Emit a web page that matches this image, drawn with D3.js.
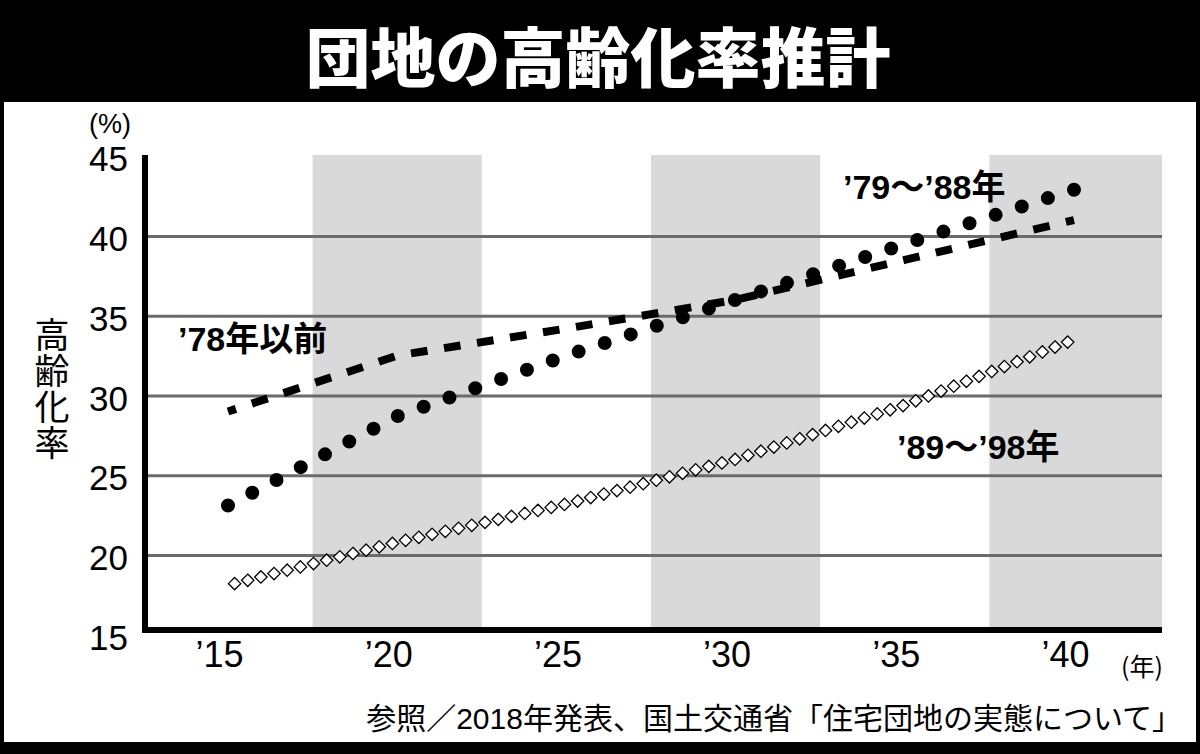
<!DOCTYPE html>
<html><head><meta charset="utf-8">
<script src="https://cdn.jsdelivr.net/npm/d3@7"></script>
<style>body{margin:0;background:#000;} svg{display:block}</style>
</head><body>
<svg id="c" width="1200" height="754"></svg>
<script>
const title = "団地の高齢化率推計";
const years = [2015, 2020, 2025, 2030, 2035, 2040];
const seriesPre78 = [29.0, 32.5, 34.2, 36.0, 38.5, 41.0];
const series79to88 = [23.1, 28.7, 32.5, 36.0, 39.5, 42.9];
const series89to98 = [18.1, 20.8, 23.2, 26.0, 29.4, 33.5];
const seriesNames = ["’78年以前", "’79〜’88年", "’89〜’98年"];
const yTicks = [15, 20, 25, 30, 35, 40, 45];
const gridTicks = [20, 25, 30, 35, 40];
const xTicks = [2015, 2020, 2025, 2030, 2035, 2040];
const xTickLabels = ["’15", "’20", "’25", "’30", "’35", "’40"];
const shadedPeriods = [[2017.5, 2022.5], [2027.5, 2032.5], [2037.5, 2042.6]];
const yAxisTitle = "高齢化率";
const yUnit = "(%)";
const xUnit = "(年)";
const source = "参照／2018年発表、国土交通省「住宅団地の実態について」";

const svg = d3.select("#c");
const W = 1200, H = 754;
const plot = {left: 145, right: 1162, top: 155, bottom: 627};
const x = d3.scaleLinear().domain([2015, 2040]).range([228, 1074]);
const y = d3.scaleLinear().domain([15, 45]).range([634.75, 156.25]);

const jp = "'Noto Sans CJK JP', sans-serif";
const latJp = "'Liberation Sans', 'Noto Sans CJK JP', sans-serif";
const narrow = "'Liberation Sans Narrow', 'Liberation Sans', sans-serif";

// background
svg.append("rect").attr("width", W).attr("height", H).attr("fill", "#000");
svg.append("rect").attr("x", 4).attr("y", 102).attr("width", 1192).attr("height", 640).attr("fill", "#fff");

// title
svg.append("text").attr("x", 598).attr("y", 54).attr("text-anchor", "middle")
  .attr("dominant-baseline", "central").attr("fill", "#fff")
  .style("font-family", jp).style("font-weight", 900).style("font-size", "65px")
  .text(title);

// shaded bands
svg.append("g").selectAll("rect").data(shadedPeriods).join("rect")
  .attr("x", d => x(d[0]))
  .attr("width", d => Math.min(x(d[1]), plot.right) - x(d[0]))
  .attr("y", plot.top).attr("height", plot.bottom - plot.top)
  .attr("fill", "#d9d9d9");

// gridlines
const grid = svg.append("g").attr("transform", `translate(${plot.left},0)`)
  .call(d3.axisRight(y).tickValues(gridTicks).tickSize(plot.right - plot.left).tickFormat(""));
grid.select(".domain").remove();
grid.selectAll("line").attr("stroke", "#6b6b6b").attr("stroke-width", 3);

// y tick labels
const ya = svg.append("g").attr("transform", "translate(128,0)")
  .call(d3.axisLeft(y).tickValues(yTicks).tickSize(0).tickPadding(0));
ya.select(".domain").remove();
ya.selectAll("text").attr("fill", "#000").attr("dy", "0.42em")
  .style("font-family", narrow).style("font-size", "35px");

// x tick labels
const xa = svg.append("g").attr("transform", "translate(0,645)")
  .call(d3.axisBottom(x).tickValues(xTicks).tickSize(0).tickPadding(0)
    .tickFormat((d, i) => xTickLabels[i]));
xa.select(".domain").remove();
xa.selectAll("text").attr("fill", "#000").attr("dx", -9).attr("dy", "0.62em")
  .style("font-family", narrow).style("font-size", "36px");

// axis lines
svg.append("line").attr("x1", 145).attr("x2", 145).attr("y1", plot.top).attr("y2", 633)
  .attr("stroke", "#000").attr("stroke-width", 6);
svg.append("line").attr("x1", 142).attr("x2", plot.right).attr("y1", 630).attr("y2", 630)
  .attr("stroke", "#000").attr("stroke-width", 6);

// units and titles
svg.append("text").attr("x", 131).attr("y", 124).attr("text-anchor", "end")
  .attr("dominant-baseline", "central").style("font-family", narrow).style("font-size", "27px")
  .text(yUnit);
svg.append("text").attr("x", 1121).attr("y", 665)
  .attr("dominant-baseline", "central").style("font-family", "'Liberation Sans Narrow', 'Noto Sans CJK JP', sans-serif").style("font-size", "25px")
  .text(xUnit);
svg.append("text").attr("x", 52).attr("y", 317)
  .style("writing-mode", "vertical-rl").style("letter-spacing", "1px")
  .style("font-family", jp).style("font-size", "35px").text(yAxisTitle);
svg.append("text").attr("x", 1182).attr("y", 718).attr("text-anchor", "end")
  .attr("dominant-baseline", "central").style("font-family", latJp).style("font-size", "30px")
  .text(source);

const line = d3.line().x(d => x(d.year)).y(d => y(d.v));
const toPts = arr => years.map((yr, i) => ({year: yr, v: arr[i]}));

// '78年以前 dashed
const dashPath = svg.append("path").datum(toPts(seriesPre78)).attr("d", line)
  .attr("fill", "none").attr("stroke", "#000").attr("stroke-width", 8);
{
  const L = dashPath.node().getTotalLength();
  const per = L / 26, dash = per / 2;
  dashPath.attr("stroke-dasharray", `${dash} ${per - dash}`).attr("stroke-dashoffset", dash / 2);
}

// '79〜'88 dotted
const dotPath = svg.append("path").datum(toPts(series79to88)).attr("d", line)
  .attr("fill", "none").attr("stroke", "#000").attr("stroke-width", 14)
  .attr("stroke-linecap", "round");
{
  const L = dotPath.node().getTotalLength();
  dotPath.attr("stroke-dasharray", `0 ${L / 33}`);
}

// '89〜'98 diamonds
const diaPath = svg.append("path").datum(toPts(series89to98)).attr("d", line)
  .attr("fill", "none").attr("stroke", "none");
{
  const node = diaPath.node();
  const L = node.getTotalLength();
  const N = 65;
  const pts = d3.range(N).map(i => node.getPointAtLength((i + 0.5) * L / N));
  const r = 6.2;
  svg.append("g").selectAll("path").data(pts).join("path")
    .attr("d", p => `M${p.x},${p.y - r}L${p.x + r},${p.y}L${p.x},${p.y + r}L${p.x - r},${p.y}Z`)
    .attr("fill", "#fff").attr("stroke", "#000").attr("stroke-width", 1.3);
}

// series labels
const labelPos = [[178, 339], [843, 187], [897, 447]];
svg.append("g").selectAll("text").data(seriesNames).join("text")
  .attr("x", (d, i) => labelPos[i][0]).attr("y", (d, i) => labelPos[i][1])
  .attr("dominant-baseline", "central")
  .style("font-family", latJp).style("font-weight", 700).style("font-size", "34px")
  .text(d => d);
</script>
</body></html>
